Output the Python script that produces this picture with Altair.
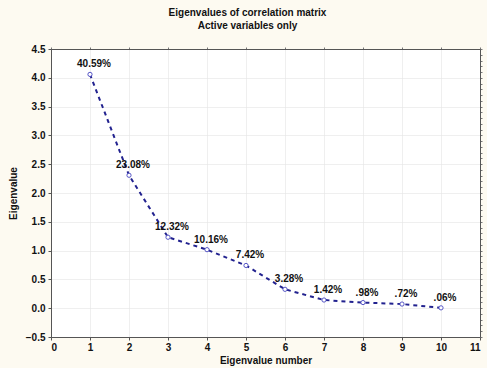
import altair as alt
import pandas as pd

# Scree plot: eigenvalues of the correlation matrix (active variables only)
components = list(range(1, 11))
eigenvalues = [4.059, 2.308, 1.232, 1.016, 0.742, 0.328, 0.142, 0.098, 0.072, 0.006]
pct_labels = ["40.59%", "23.08%", "12.32%", "10.16%", "7.42%", "3.28%",
              "1.42%", ".98%", ".72%", ".06%"]
x_ticks = list(range(0, 12))
y_ticks = [-0.5, 0.0, 0.5, 1.0, 1.5, 2.0, 2.5, 3.0, 3.5, 4.0, 4.5]
y_minor = [round(-0.5 + 0.1 * i, 1) for i in range(51)]

df = pd.DataFrame({"n": components, "ev": eigenvalues, "pct": pct_labels})

FONT = "Liberation Sans"
FS = 10
xs = alt.Scale(domain=[0, 11], nice=False, zero=False)
ys = alt.Scale(domain=[-0.5, 4.5], nice=False, zero=False)

x_main = alt.X(
    "n:Q", scale=xs,
    axis=alt.Axis(values=x_ticks, format="d", title="Eigenvalue number",
                  grid=True, gridColor="#e4e4e4", gridWidth=0.6,
                  tickSize=3, tickColor="#555", domainColor="#555",
                  labelFont=FONT, labelFontSize=FS, labelFontWeight="bold",
                  labelColor="#111", labelPadding=2,
                  titleFont=FONT, titleFontSize=FS, titleFontWeight="bold",
                  titleColor="#111", titlePadding=3),
)
y_main = alt.Y(
    "ev:Q", scale=ys,
    axis=alt.Axis(values=y_ticks, format=".1f", title="Eigenvalue",
                  grid=True, gridColor="#e4e4e4", gridWidth=0.6,
                  tickSize=3, tickColor="#555", domainColor="#555",
                  labelFont=FONT, labelFontSize=FS, labelFontWeight="bold",
                  labelColor="#111", labelPadding=3,
                  titleFont=FONT, titleFontSize=FS, titleFontWeight="bold",
                  titleColor="#111", titlePadding=7),
)

base = alt.Chart(df)

line = base.mark_line(color="#22228f", strokeWidth=2, strokeDash=[4, 4]).encode(
    x=x_main, y=y_main
)

points = base.mark_point(shape="circle", size=18, fill="white", fillOpacity=1,
                         stroke="#4646c0", strokeWidth=0.9, opacity=1).encode(
    x=alt.X("n:Q", scale=xs, axis=None), y=alt.Y("ev:Q", scale=ys, axis=None)
)

labels = base.mark_text(font=FONT, fontSize=FS, fontWeight="bold", color="#111",
                        align="center", dx=4, dy=-10).encode(
    x=alt.X("n:Q", scale=xs, axis=None), y=alt.Y("ev:Q", scale=ys, axis=None),
    text="pct:N",
)

# Framing axes on the top and right edges (ticks only)
frame = base.mark_point(opacity=0).encode(
    x=alt.X("n:Q", scale=xs,
            axis=alt.Axis(orient="top", values=x_ticks, labels=False, title=None,
                          grid=False, tickSize=2, tickColor="#777",
                          domainColor="#555")),
    y=alt.Y("ev:Q", scale=ys,
            axis=alt.Axis(orient="right", values=y_minor, labels=False, title=None,
                          grid=False, tickSize=2, tickColor="#777",
                          domainColor="#555")),
)

chart = (
    alt.layer(line, frame, points, labels)
    .resolve_axis(x="independent", y="independent")
    .properties(
        width=429, height=288,
        autosize=alt.AutoSizeParams(type="none"),
        padding={"left": 51, "top": 49, "right": 7, "bottom": 31},
        background="#fdfaf1",
        title=alt.TitleParams(
            text="Eigenvalues of correlation matrix",
            subtitle="Active variables only",
            font=FONT, fontSize=FS, fontWeight="bold", color="#111",
            subtitleFont=FONT, subtitleFontSize=FS, subtitleFontWeight="bold",
            subtitleColor="#111", subtitlePadding=3,
            anchor="middle", dx=-18, offset=13,
        ),
    )
    .configure_view(stroke="#555", fill="white", strokeWidth=1)
)

chart.save("out.html", embed_options={"renderer": "svg", "actions": False})
